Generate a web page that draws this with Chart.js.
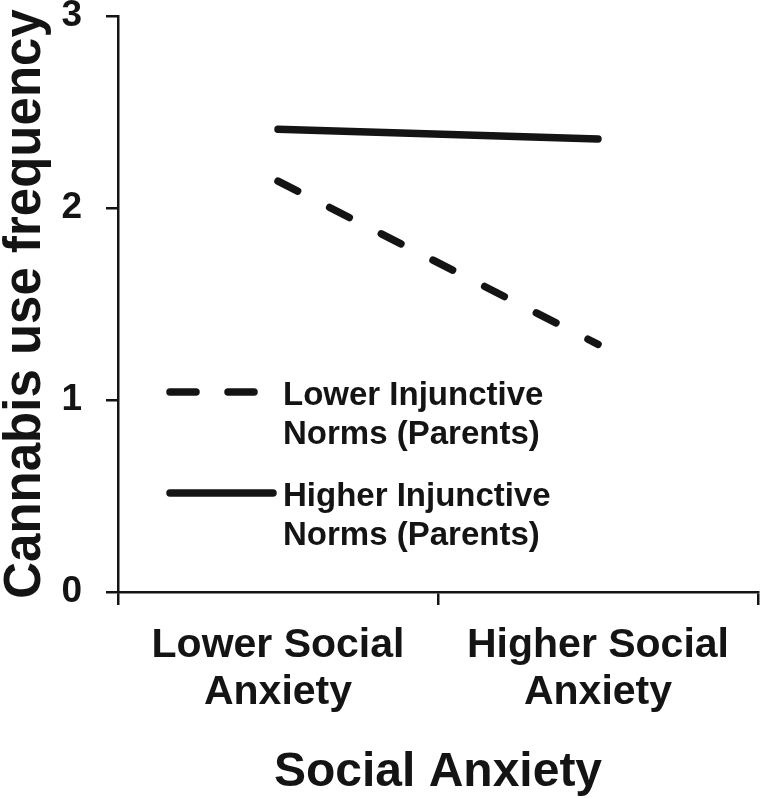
<!DOCTYPE html>
<html>
<head>
<meta charset="utf-8">
<script src="https://cdn.jsdelivr.net/npm/chart.js@4.4.0/dist/chart.umd.min.js"></script>
<style>
  html, body { margin: 0; padding: 0; background: #fff; }
  #wrap { width: 762px; height: 799px; position: relative; }
</style>
</head>
<body>
<div id="wrap"><canvas id="grafico"></canvas></div>
<script>
// datos
const categorias = [['Lower Social', 'Anxiety'], ['Higher Social', 'Anxiety']];
const normasBajas = [2.14, 1.29];
const normasAltas = [2.41, 2.36];
const etiquetasSeries = [
  ['Lower Injunctive', 'Norms (Parents)'],
  ['Higher Injunctive', 'Norms (Parents)']
];
const ticksY = [0, 1, 2, 3];

const fuente = '"Liberation Sans", Arial, Helvetica, sans-serif';
const negro = '#141414';

// leyenda dibujada a mano dentro del area del grafico
const leyendaPlugin = {
  id: 'leyendaInterna',
  afterDraw(chart) {
    const ctx = chart.ctx;
    const area = chart.chartArea;
    const x0 = area.left + 52;
    const xTexto = area.left + 165;
    const filas = [area.top + 376, area.top + 477];
    ctx.save();
    chart.data.datasets.forEach((ds, i) => {
      const y = filas[i];
      const punteada = ds.borderDash && ds.borderDash.length;
      ctx.strokeStyle = negro;
      ctx.lineWidth = 7.5;
      ctx.lineCap = 'round';
      ctx.setLineDash(punteada ? [26, 32] : []);
      ctx.beginPath();
      ctx.moveTo(x0, y);
      ctx.lineTo(x0 + (punteada ? 90 : 103), y);
      ctx.stroke();
      ctx.setLineDash([]);
      ctx.fillStyle = negro;
      ctx.font = 'bold 33px ' + fuente;
      ctx.textAlign = 'left';
      ctx.textBaseline = 'alphabetic';
      etiquetasSeries[i].forEach((linea, j) => {
        ctx.fillText(linea, xTexto, y + 13 + j * 39);
      });
    });
    ctx.restore();
  }
};

window.addEventListener('load', () => {
  const ctx = document.getElementById('grafico').getContext('2d');
  new Chart(ctx, {
    type: 'line',
    data: {
      labels: categorias,
      datasets: [{
        label: etiquetasSeries[0].join(' '),
        data: normasBajas,
        borderColor: negro,
        borderWidth: 7.5,
        borderDash: [22, 36],
        borderCapStyle: 'round',
        pointRadius: 0,
        tension: 0
      }, {
        label: etiquetasSeries[1].join(' '),
        data: normasAltas,
        borderColor: negro,
        borderWidth: 7.5,
        borderCapStyle: 'round',
        pointRadius: 0,
        tension: 0
      }]
    },
    options: {
      responsive: true,
      maintainAspectRatio: false,
      animation: false,
      layout: { padding: { top: 16, right: 4, bottom: 0, left: 0 } },
      plugins: {
        legend: { display: false },
        tooltip: { enabled: false }
      },
      scales: {
        x: {
          offset: true,
          grid: {
            offset: true,
            drawOnChartArea: false,
            drawTicks: true,
            tickLength: 13,
            color: negro,
            lineWidth: 2.5
          },
          border: { display: true, color: negro, width: 2.5 },
          ticks: {
            color: negro,
            padding: 17,
            maxRotation: 0,
            autoSkip: false,
            font: { family: fuente, size: 41, weight: 'bold', lineHeight: 1.15 }
          },
          title: {
            display: true,
            text: 'Social Anxiety',
            color: negro,
            padding: { top: 0, bottom: 2 },
            font: { family: fuente, size: 48, weight: 'bold', lineHeight: 1 }
          },
          afterFit: s => { s.height = 207; s.paddingLeft = 0; s.paddingRight = 0; }
        },
        y: {
          min: 0,
          max: 3,
          afterBuildTicks: s => { s.ticks = ticksY.map(v => ({ value: v })); },
          grid: {
            drawOnChartArea: false,
            drawTicks: true,
            tickLength: 12,
            color: negro,
            lineWidth: 2.5
          },
          border: { display: true, color: negro, width: 2.5 },
          ticks: {
            color: negro,
            padding: 24,
            font: { family: fuente, size: 37, weight: 'bold' }
          },
          title: {
            display: true,
            text: 'Cannabis use frequency',
            color: negro,
            padding: 0,
            font: { family: fuente, size: 51, weight: 'bold', lineHeight: 1 }
          },
          afterFit: s => { s.width = 118; s.paddingTop = 0; s.paddingBottom = 0; }
        }
      }
    },
    plugins: [leyendaPlugin]
  });
});
</script>
</body>
</html>
